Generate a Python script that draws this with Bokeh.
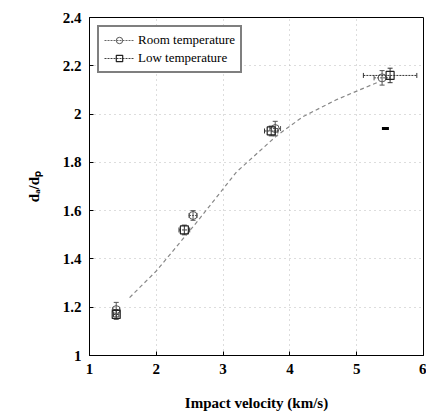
from bokeh.plotting import figure
from bokeh.models import FixedTicker, Whisker, ColumnDataSource, Legend, LegendItem
from bokeh.embed import file_html
from bokeh.resources import INLINE

# Data
room_v = [1.4, 2.55, 3.78, 5.38]
room_d = [1.19, 1.58, 1.94, 2.15]
room_verr = [0.05, 0.06, 0.08, 0.12]
room_derr = [0.03, 0.02, 0.03, 0.03]

low_v = [1.4, 2.42, 3.72, 5.5]
low_d = [1.17, 1.52, 1.93, 2.16]
low_verr = [0.04, 0.08, 0.1, 0.4]
low_derr = [0.02, 0.02, 0.02, 0.03]

fit_v = [1.6, 2.0, 2.6, 3.2, 3.8, 4.2, 4.7, 5.3]
fit_d = [1.24, 1.35, 1.55, 1.76, 1.91, 1.99, 2.06, 2.13]

stray_v = [5.43]
stray_d = [1.94]

x_ticks = [1, 2, 3, 4, 5, 6]
y_ticks = [1, 1.2, 1.4, 1.6, 1.8, 2, 2.2, 2.4]
y_labels = ["1", "1.2", "1.4", "1.6", "1.8", "2", "2.2", "2.4"]

FONT = "Liberation Serif"

p = figure(width=426, height=416, x_range=(1, 6), y_range=(1, 2.4),
           output_backend="svg", toolbar_location=None,
           min_border_left=89, min_border_right=3, min_border_top=17, min_border_bottom=61)
p.outline_line_color = "black"
p.outline_line_width = 1
p.background_fill_color = "white"

for ax in (p.xaxis[0], p.yaxis[0]):
    ax.major_label_text_font = FONT
    ax.major_label_text_font_style = "bold"
    ax.major_label_text_font_size = "15px"
    ax.major_label_text_color = "black"
    ax.axis_label_text_font = FONT
    ax.axis_label_text_font_style = "bold"
    ax.axis_label_text_font_size = "15px"
    ax.axis_label_text_color = "black"
    ax.axis_line_color = "black"
    ax.major_tick_in = 4
    ax.major_tick_out = 0
    ax.minor_tick_line_color = None
    ax.major_label_standoff = 8

p.xaxis.ticker = FixedTicker(ticks=x_ticks)
p.yaxis.ticker = FixedTicker(ticks=y_ticks)
p.yaxis.major_label_overrides = {t: l for t, l in zip(y_ticks, y_labels)}
p.xaxis.axis_label = "Impact velocity (km/s)"
p.yaxis.axis_label = "dₐ/dₚ"
p.xaxis.axis_label_standoff = 18
p.yaxis.axis_label_standoff = 18

p.xgrid.grid_line_color = "#bbbbbb"
p.xgrid.grid_line_dash = "1 4"
p.ygrid.grid_line_color = "#bbbbbb"
p.ygrid.grid_line_dash = "1 4"

# fit line
p.line(fit_v, fit_d, line_color="#888888", line_dash="4 3", line_width=1.2)

room = ColumnDataSource(dict(x=room_v, y=room_d,
    xl=[a - b for a, b in zip(room_v, room_verr)], xu=[a + b for a, b in zip(room_v, room_verr)],
    yl=[a - b for a, b in zip(room_d, room_derr)], yu=[a + b for a, b in zip(room_d, room_derr)]))
low = ColumnDataSource(dict(x=low_v, y=low_d,
    xl=[a - b for a, b in zip(low_v, low_verr)], xu=[a + b for a, b in zip(low_v, low_verr)],
    yl=[a - b for a, b in zip(low_d, low_derr)], yu=[a + b for a, b in zip(low_d, low_derr)]))

for src, col in ((room, "#555555"), (low, "#333333")):
    wy = Whisker(source=src, base="x", lower="yl", upper="yu", line_color=col, line_width=1)
    wy.upper_head.size = 5
    wy.lower_head.size = 5
    wy.upper_head.line_color = col
    wy.lower_head.line_color = col
    wx = Whisker(source=src, base="y", lower="xl", upper="xu", dimension="width",
                 line_color=col, line_width=1, line_dash="2 1")
    wx.upper_head.size = 5
    wx.lower_head.size = 5
    wx.upper_head.line_color = col
    wx.lower_head.line_color = col
    p.add_layout(wy)
    p.add_layout(wx)

r1 = p.scatter("x", "y", source=room, marker="circle", size=8, fill_color=None,
               line_color="#555555", line_width=1)
r2 = p.scatter("x", "y", source=low, marker="square", size=8, fill_color=None,
               line_color="#222222", line_width=1.2)

p.scatter(stray_v, stray_d, marker="dash", size=7, line_color="black", line_width=3)

nan = float("nan")
l1 = p.line([nan], [nan], line_color="#666666", line_dash="2 1")
l2 = p.line([nan], [nan], line_color="#444444", line_dash="2 1")

legend = Legend(items=[
    LegendItem(label="Room temperature", renderers=[l1, r1]),
    LegendItem(label="Low temperature", renderers=[l2, r2]),
], location="top_left")
legend.label_text_font = FONT
legend.label_text_font_size = "13px"
legend.label_text_color = "black"
legend.border_line_color = "black"
legend.border_line_width = 2.5
legend.margin = 8
legend.padding = 5
legend.spacing = 2
legend.label_height = 16
legend.glyph_height = 16
legend.glyph_width = 30
legend.label_standoff = 4
legend.background_fill_alpha = 1
p.add_layout(legend)

open("out.html", "w").write(file_html(p, INLINE))
